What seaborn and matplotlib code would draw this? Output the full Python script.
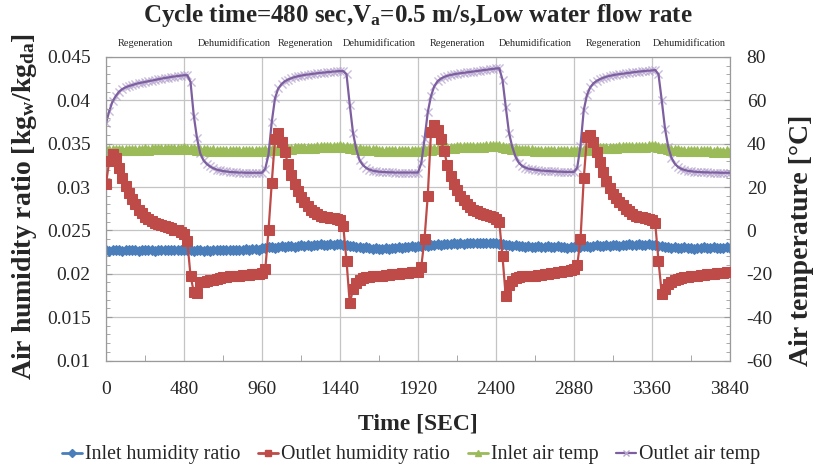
import numpy as np
import pandas as pd
import seaborn as sns
import matplotlib
matplotlib.use("Agg")
import matplotlib.pyplot as plt
from matplotlib.lines import Line2D
from matplotlib.ticker import MultipleLocator, FuncFormatter

# ---------------- data (20 s sampling) ----------------
time_s = np.arange(0, 3841, 20)

inlet_humidity = [
    0.0227, 0.0226, 0.0227, 0.0228, 0.0227, 0.0226, 0.0227, 0.0227, 0.0228, 0.0227,
    0.0226, 0.0227, 0.0228, 0.0227, 0.0227, 0.0226, 0.0227, 0.0228, 0.0228, 0.0227,
    0.0228, 0.0227, 0.0228, 0.0228, 0.0227, 0.0228, 0.0227, 0.0226, 0.0227, 0.0227,
    0.0226, 0.0227, 0.0226, 0.0227, 0.0227, 0.0228, 0.0227, 0.0227, 0.0228, 0.0228,
    0.0227, 0.0228, 0.0228, 0.0229, 0.0228, 0.0229, 0.0229, 0.0228, 0.0230,
    0.0230, 0.0231, 0.0231, 0.0230, 0.0231, 0.0232, 0.0231, 0.0232, 0.0232, 0.0231,
    0.0232, 0.0233, 0.0232, 0.0233, 0.0232, 0.0233, 0.0233, 0.0234, 0.0233, 0.0233,
    0.0234, 0.0233, 0.0234, 0.0234, 0.0233, 0.0233, 0.0232, 0.0232, 0.0231, 0.0231,
    0.0230, 0.0231, 0.0230, 0.0229, 0.0230, 0.0229, 0.0229, 0.0230, 0.0229, 0.0230,
    0.0230, 0.0231, 0.0230, 0.0231, 0.0231, 0.0232, 0.0231, 0.0232,
    0.0232, 0.0233, 0.0232, 0.0233, 0.0233, 0.0234, 0.0233, 0.0234, 0.0234, 0.0234,
    0.0235, 0.0234, 0.0235, 0.0234, 0.0235, 0.0235, 0.0236, 0.0235, 0.0235, 0.0236,
    0.0235, 0.0235, 0.0236, 0.0235, 0.0234, 0.0234, 0.0233, 0.0233, 0.0232, 0.0233,
    0.0232, 0.0232, 0.0231, 0.0232, 0.0231, 0.0231, 0.0232, 0.0231, 0.0231, 0.0232,
    0.0231, 0.0231, 0.0232, 0.0231, 0.0231, 0.0230, 0.0231, 0.0231,
    0.0232, 0.0231, 0.0232, 0.0232, 0.0231, 0.0232, 0.0233, 0.0232, 0.0232, 0.0233,
    0.0232, 0.0233, 0.0233, 0.0232, 0.0233, 0.0233, 0.0234, 0.0233, 0.0233, 0.0234,
    0.0233, 0.0233, 0.0234, 0.0233, 0.0233, 0.0232, 0.0232, 0.0231, 0.0231, 0.0230,
    0.0231, 0.0230, 0.0230, 0.0231, 0.0230, 0.0230, 0.0229, 0.0230, 0.0230, 0.0231,
    0.0230, 0.0230, 0.0231, 0.0230, 0.0230, 0.0230, 0.0231, 0.0230,
]

outlet_humidity = [
    0.0304, 0.0330, 0.0338, 0.0333, 0.0322, 0.0311, 0.0301, 0.0293, 0.0286, 0.0280,
    0.0274, 0.0270, 0.0266, 0.0263, 0.0261, 0.0259, 0.0257, 0.0256, 0.0255, 0.0254,
    0.0253, 0.0251, 0.0250, 0.0248, 0.0246, 0.0238, 0.0198, 0.0179, 0.0178, 0.0190,
    0.0191, 0.0192, 0.0193, 0.0193, 0.0194, 0.0195, 0.0196, 0.0196, 0.0197, 0.0197,
    0.0198, 0.0198, 0.0199, 0.0199, 0.0199, 0.0200, 0.0200, 0.0200, 0.0201,
    0.0205, 0.0250, 0.0305, 0.0356, 0.0362, 0.0352, 0.0340, 0.0327, 0.0314, 0.0303,
    0.0295, 0.0289, 0.0283, 0.0278, 0.0274, 0.0271, 0.0269, 0.0267, 0.0266, 0.0265,
    0.0264, 0.0264, 0.0263, 0.0262, 0.0255, 0.0215, 0.0166, 0.0182, 0.0189, 0.0193,
    0.0195, 0.0196, 0.0196, 0.0197, 0.0197, 0.0198, 0.0198, 0.0199, 0.0199, 0.0200,
    0.0200, 0.0200, 0.0201, 0.0201, 0.0201, 0.0202, 0.0202, 0.0202,
    0.0208, 0.0240, 0.0290, 0.0364, 0.0371, 0.0366, 0.0355, 0.0342, 0.0326, 0.0313,
    0.0304, 0.0297, 0.0290, 0.0285, 0.0281, 0.0277, 0.0274, 0.0272, 0.0270, 0.0269,
    0.0268, 0.0267, 0.0265, 0.0263, 0.0260, 0.0220, 0.0174, 0.0187, 0.0192, 0.0195,
    0.0196, 0.0197, 0.0197, 0.0198, 0.0198, 0.0198, 0.0199, 0.0199, 0.0200, 0.0200,
    0.0201, 0.0201, 0.0202, 0.0202, 0.0203, 0.0203, 0.0204, 0.0206,
    0.0210, 0.0240, 0.0310, 0.0358, 0.0360, 0.0352, 0.0341, 0.0329, 0.0317, 0.0307,
    0.0299, 0.0292, 0.0287, 0.0283, 0.0279, 0.0275, 0.0272, 0.0269, 0.0267, 0.0266,
    0.0265, 0.0264, 0.0263, 0.0262, 0.0258, 0.0215, 0.0177, 0.0182, 0.0188, 0.0191,
    0.0193, 0.0194, 0.0195, 0.0196, 0.0196, 0.0197, 0.0198, 0.0198, 0.0199, 0.0199,
    0.0200, 0.0200, 0.0200, 0.0201, 0.0201, 0.0201, 0.0202, 0.0202,
]

inlet_air_temp = [
    36.9, 37.0, 36.9, 37.1, 37.0, 37.1, 37.2, 37.1, 37.2, 37.3,
    37.2, 37.3, 37.4, 37.3, 37.4, 37.5, 37.4, 37.5, 37.6, 37.5,
    37.6, 37.7, 37.6, 37.7, 37.8, 37.7, 37.6, 37.4, 37.3, 37.1,
    37.0, 36.9, 36.8, 36.9, 36.7, 36.8, 36.6, 36.7, 36.6, 36.7,
    36.6, 36.5, 36.6, 36.7, 36.6, 36.7, 36.6, 36.7, 36.8,
    36.9, 37.0, 37.1, 37.2, 37.3, 37.4, 37.5, 37.6, 37.7, 37.8,
    37.9, 37.9, 38.0, 38.1, 38.2, 38.2, 38.3, 38.4, 38.4, 38.5,
    38.6, 38.6, 38.7, 38.8, 38.7, 38.5, 38.2, 37.9, 37.6, 37.4,
    37.2, 37.1, 37.0, 36.9, 36.9, 36.8, 36.8, 36.7, 36.8, 36.7,
    36.7, 36.6, 36.7, 36.6, 36.6, 36.7, 36.6, 36.6,
    36.7, 36.9, 37.1, 37.3, 37.5, 37.6, 37.8, 37.9, 38.0, 38.1,
    38.2, 38.3, 38.3, 38.4, 38.5, 38.5, 38.6, 38.6, 38.7, 38.7,
    38.8, 38.8, 38.8, 38.9, 38.8, 38.5, 38.2, 37.9, 37.6, 37.4,
    37.2, 37.1, 37.0, 36.9, 36.9, 36.8, 36.8, 36.7, 36.8, 36.7,
    36.7, 36.6, 36.7, 36.6, 36.6, 36.5, 36.6, 36.5,
    36.6, 36.8, 37.0, 37.2, 37.4, 37.5, 37.7, 37.8, 37.9, 38.0,
    38.1, 38.2, 38.2, 38.3, 38.4, 38.4, 38.5, 38.5, 38.6, 38.6,
    38.7, 38.7, 38.8, 38.8, 38.8, 38.6, 38.2, 37.8, 37.5, 37.2,
    37.0, 36.9, 36.8, 36.7, 36.7, 36.6, 36.6, 36.5, 36.5, 36.6,
    36.5, 36.5, 36.4, 36.5, 36.4, 36.4, 36.5, 36.4,
]

outlet_air_temp = [
    49.5, 55.0, 59.5, 62.0, 64.0, 65.2, 66.0, 66.6, 67.0, 67.5,
    67.9, 68.2, 68.5, 68.8, 69.1, 69.4, 69.7, 70.0, 70.3, 70.5,
    70.8, 71.0, 71.2, 71.4, 71.6, 71.6, 68.5, 53.0, 42.5, 35.5,
    32.3, 30.6, 29.5, 28.7, 28.1, 27.7, 27.4, 27.2, 27.0, 26.9,
    26.8, 26.7, 26.7, 26.6, 26.6, 26.6, 26.6, 26.6, 26.6,
    28.5, 35.0, 50.0, 61.0, 65.5, 67.5, 68.8, 69.6, 70.2, 70.7,
    71.1, 71.4, 71.7, 71.9, 72.1, 72.3, 72.5, 72.7, 72.8, 73.0,
    73.1, 73.3, 73.4, 73.5, 73.5, 72.0, 58.0, 45.0, 37.5, 32.5,
    30.2, 28.9, 28.1, 27.6, 27.3, 27.1, 27.0, 26.9, 26.8, 26.8,
    26.7, 26.7, 26.7, 26.7, 26.7, 26.7, 26.7, 26.7,
    31.0, 42.0, 54.5, 62.0, 66.5, 68.8, 70.0, 70.8, 71.3, 71.7,
    72.0, 72.3, 72.5, 72.7, 72.9, 73.1, 73.3, 73.5, 73.7, 73.9,
    74.1, 74.3, 74.5, 74.7, 74.8, 69.5, 57.0, 45.0, 38.5, 34.0,
    31.3, 29.8, 29.0, 28.5, 28.2, 28.0, 27.8, 27.6, 27.5, 27.4,
    27.3, 27.2, 27.1, 27.1, 27.0, 27.0, 27.0, 27.0,
    29.0, 39.0, 55.5, 62.5, 66.0, 67.9, 69.0, 69.8, 70.4, 70.9,
    71.3, 71.6, 71.9, 72.1, 72.3, 72.5, 72.7, 72.9, 73.1, 73.3,
    73.4, 73.6, 73.7, 73.8, 74.0, 72.0, 60.0, 47.0, 38.5, 33.5,
    30.8, 29.3, 28.4, 27.9, 27.5, 27.3, 27.1, 27.0, 26.9, 26.8,
    26.8, 26.7, 26.7, 26.7, 26.6, 26.6, 26.6, 26.6,
]

phase_labels = ["Regeneration", "Dehumidification"] * 4
phase_label_x = [240, 790, 1230, 1680, 2160, 2640, 3120, 3590]
series_names = ["Inlet humidity ratio", "Outlet humidity ratio",
                "Inlet air temp", "Outlet air temp"]

# ---------------- style ----------------
sns.set_style("white")
plt.rcParams.update({
    "font.family": ["Liberation Serif", "DejaVu Serif"],
    "mathtext.fontset": "custom",
    "mathtext.rm": "Liberation Serif",
    "mathtext.bf": "Liberation Serif:bold",
    "mathtext.it": "Liberation Serif:italic",
    "axes.unicode_minus": False,
})

C_BLUE = "#4A7EBB"
C_RED = "#BE4B48"
C_GREEN = "#9BBB59"
C_PURPLE = "#7D5FA0"
C_LAV = "#B6A5CF"
C_GRID = "#C4C4C4"
C_AX = "#9A9A9A"

fig = plt.figure(figsize=(8.13, 4.71), dpi=100)
ax = fig.add_axes([0.1304, 0.2346, 0.7675, 0.6444])
axt = ax.twinx()
ax.set_zorder(3)
ax.patch.set_visible(False)
axt.set_zorder(1)

# temperature series (right axis)
sns.scatterplot(x=time_s, y=outlet_air_temp, ax=axt, marker="x", color=C_LAV,
                s=34, linewidth=1.0, alpha=0.75, legend=False, zorder=2)
sns.lineplot(x=time_s, y=inlet_air_temp, ax=axt, color=C_GREEN, lw=2.6,
             marker="^", markersize=7, markeredgecolor=C_GREEN,
             errorbar=None, legend=False, zorder=3)
sns.lineplot(x=time_s, y=outlet_air_temp, ax=axt, color=C_PURPLE, lw=1.6,
             errorbar=None, legend=False, zorder=4)

# humidity series (left axis)
sns.lineplot(x=time_s, y=inlet_humidity, ax=ax, color=C_BLUE, lw=2.6,
             marker="D", markersize=5.5, markeredgecolor=C_BLUE,
             errorbar=None, legend=False, zorder=2)
sns.lineplot(x=time_s, y=outlet_humidity, ax=ax, color=C_RED, lw=1.6,
             marker="s", markersize=6.5, markeredgecolor=C_RED,
             errorbar=None, legend=False, zorder=3)

# axes ranges / ticks
ax.set_xlim(0, 3840)
ax.set_ylim(0.01, 0.045)
axt.set_ylim(-60, 80)
ax.xaxis.set_major_locator(MultipleLocator(480))
ax.xaxis.set_minor_locator(MultipleLocator(240))
ax.yaxis.set_major_locator(MultipleLocator(0.005))
ax.yaxis.set_minor_locator(MultipleLocator(0.001))
ax.yaxis.set_major_formatter(FuncFormatter(lambda v, p: f"{v:g}"))
axt.yaxis.set_major_locator(MultipleLocator(20))
axt.yaxis.set_minor_locator(MultipleLocator(4))
axt.yaxis.set_major_formatter(FuncFormatter(lambda v, p: f"{v:g}"))

ax.tick_params(axis="x", which="major", length=0, pad=15, labelsize=14)
ax.tick_params(axis="x", which="minor", direction="in", length=4,
               color=C_AX, bottom=True)
ax.tick_params(axis="y", which="major", direction="in", length=4,
               color=C_AX, pad=11, labelsize=14)
ax.tick_params(axis="y", which="minor", direction="in", length=3, color=C_AX)
axt.tick_params(axis="y", which="major", direction="in", length=4,
                color=C_AX, pad=12, labelsize=14)
axt.tick_params(axis="y", which="minor", direction="in", length=3, color=C_AX)

# gridlines drawn on the lower (temperature) axes so they sit under all lines
axt.xaxis.set_visible(True)
axt.tick_params(axis="x", which="both", bottom=False, top=False,
                labelbottom=False, labeltop=False)
axt.grid(True, which="major", axis="both", color=C_GRID, lw=0.9)
ax.grid(False)

for s in ax.spines.values():
    s.set_color(C_AX)
    s.set_linewidth(0.9)
for s in axt.spines.values():
    s.set_visible(False)

# labels
ax.set_xlabel("Time [SEC]", fontsize=17, fontweight="bold", va="center")
ax.xaxis.set_label_coords(0.5, -0.209)
ax.set_ylabel(r"Air humidity ratio [kg$_{\mathbf{w}}$/kg$_{\mathbf{da}}$]",
              fontsize=20, fontweight="bold", va="center")
ax.yaxis.set_label_coords(-0.13, 0.506)
axt.set_ylabel("Air temperature [°C]", fontsize=20, fontweight="bold",
               va="center")
axt.yaxis.set_label_coords(1.114, 0.397)

ax.set_title(r"Cycle time=480 sec,V$_{\mathbf{a}}$=0.5 m/s,Low water flow rate",
             fontsize=18, fontweight="bold", pad=25)

for lab, xp in zip(phase_labels, phase_label_x):
    ax.text(xp, 1.043, lab, transform=ax.get_xaxis_transform(),
            ha="center", va="center", fontsize=7.5)

# legend
handles = [
    Line2D([0], [0], color=C_BLUE, lw=2, marker="D", markersize=4,
           markeredgecolor=C_BLUE),
    Line2D([0], [0], color=C_RED, lw=2, marker="s", markersize=5,
           markeredgecolor=C_RED),
    Line2D([0], [0], color=C_GREEN, lw=2, marker="^", markersize=5,
           markeredgecolor=C_GREEN),
    Line2D([0], [0], color=C_PURPLE, lw=1.6, marker="x", markersize=5,
           markeredgecolor=C_LAV),
]
fig.legend(handles, series_names, loc="center", ncol=4, frameon=False,
           bbox_to_anchor=(411 / 813, 1 - 455 / 471), fontsize=14.4,
           handlelength=1.0, handletextpad=0.15, columnspacing=0.9)

fig.savefig("out.png", dpi=100)
